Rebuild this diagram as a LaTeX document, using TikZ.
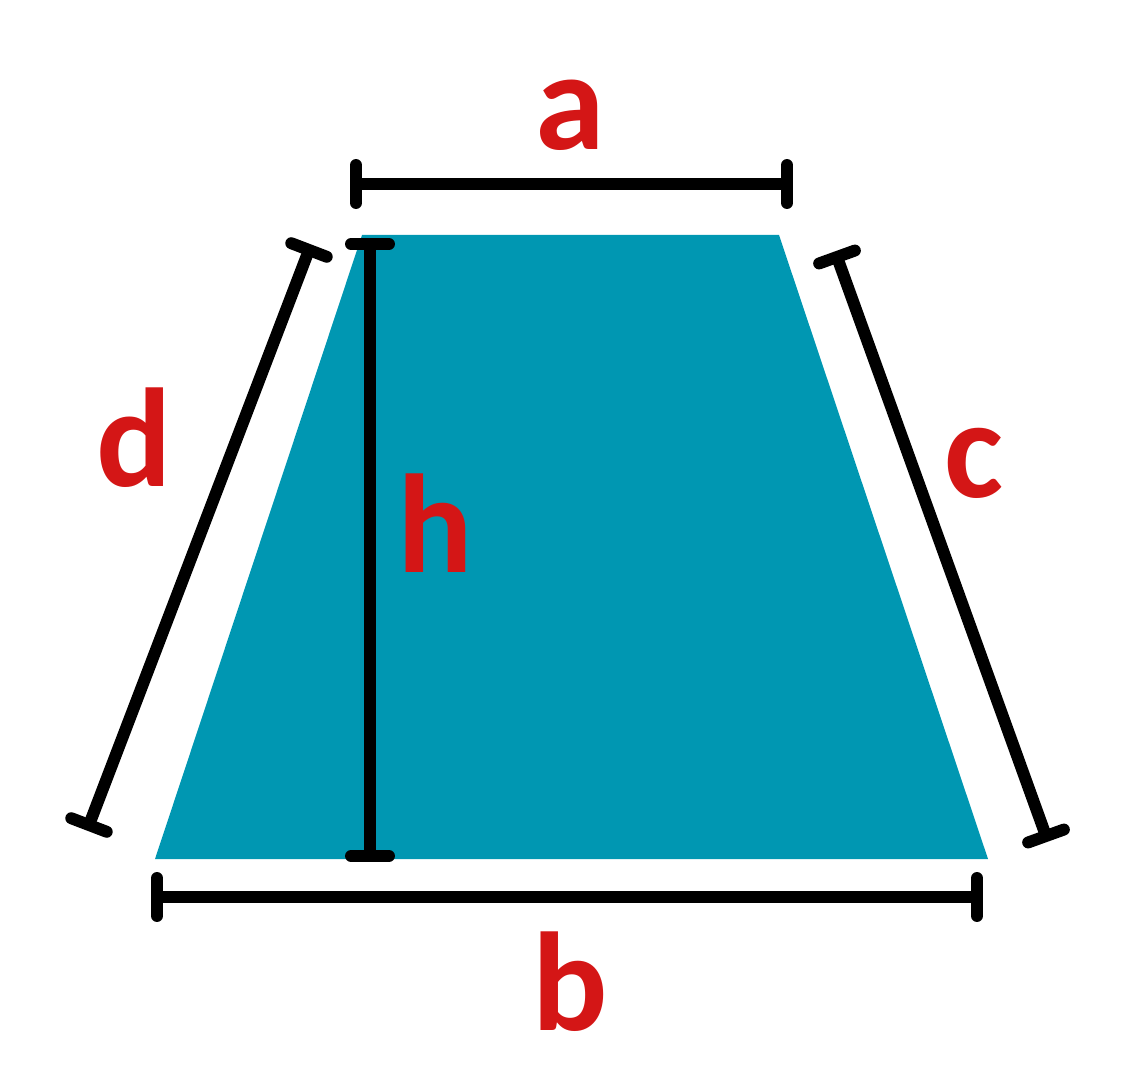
\documentclass[tikz,border=0pt]{standalone}
\usepackage{fontspec}
\setmainfont{Carlito}
\usepackage{xcolor}
\usetikzlibrary{arrows.meta}

\definecolor{trapfill}{RGB}{0,151,178}
\definecolor{labred}{RGB}{212,22,22}

\tikzset{
  dimline/.style={line width=3.4pt, shorten <=-1.7pt, shorten >=-1.7pt,
    {Bar[width=10.8pt,line width=3.4pt,round]}-{Bar[width=10.8pt,line width=3.4pt,round]}},
  letter/.style={text=labred, font=\fontsize{40}{40}\selectfont\bfseries, anchor=base, inner sep=0pt}
}

\begin{document}
\begin{tikzpicture}[x=0.01cm, y=-0.01cm]
  \useasboundingbox (0,0) rectangle (1128,1080);

  % Trapezoid
  \fill[trapfill] (362,235) -- (779,235) -- (988,859) -- (155,859) -- cycle;

  % Dimension end points
  \coordinate (aL) at (356,184);
  \coordinate (aR) at (787,184);
  \coordinate (bL) at (157,897);
  \coordinate (bR) at (977,897);
  \coordinate (cT) at (837,257);
  \coordinate (cB) at (1046,836);
  \coordinate (dT) at (309,250);
  \coordinate (dB) at (89,825);
  \coordinate (hT) at (370,244);
  \coordinate (hB) at (370,856);

  % Dimension lines
  \draw[dimline] (aL) -- (aR);
  \draw[dimline] (bL) -- (bR);
  \draw[dimline] (cT) -- (cB);
  \draw[dimline] (dT) -- (dB);
  \draw[dimline] (hT) -- (hB);

  % Labels
  \node[letter] (lblA) at (570,150) {a};
  \node[letter] (lblB) at (570,1030) {b};
  \node[letter] (lblC) at (974,498) {c};
  \node[letter] (lblD) at (134,487) {d};
  \node[letter] (lblH) at (435,573) {h};
\end{tikzpicture}
\end{document}
